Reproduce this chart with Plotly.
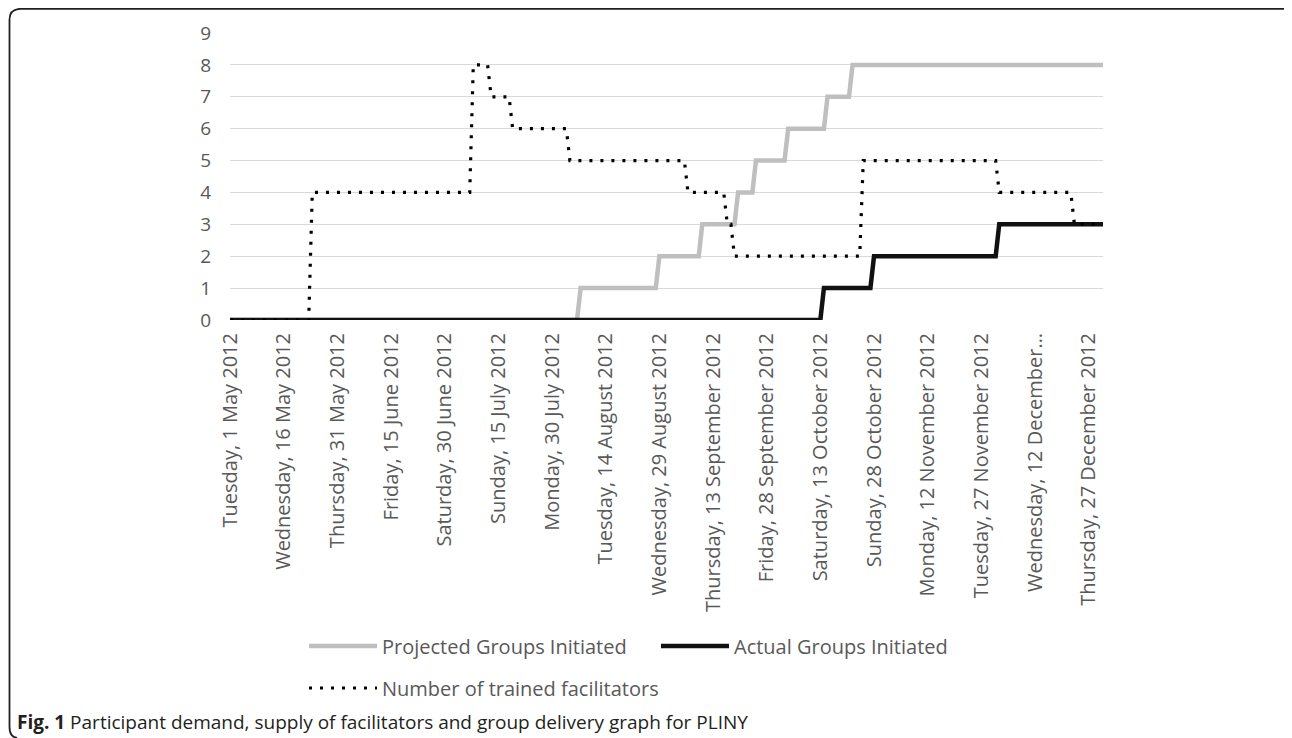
import plotly.graph_objects as go

# ---------------- data ----------------
proj_dates = ["2012-05-01", "2012-08-06", "2012-08-07", "2012-08-28", "2012-08-29",
              "2012-09-09", "2012-09-10", "2012-09-19", "2012-09-20", "2012-09-24",
              "2012-09-25", "2012-10-03", "2012-10-04", "2012-10-14", "2012-10-15",
              "2012-10-21", "2012-10-22", "2012-12-31"]
proj_values = [0, 0, 1, 1, 2, 2, 3, 3, 4, 4, 5, 5, 6, 6, 7, 7, 8, 8]

actual_dates = ["2012-05-01", "2012-10-13", "2012-10-14", "2012-10-27", "2012-10-28",
                "2012-12-01", "2012-12-02", "2012-12-31"]
actual_values = [0, 0, 1, 1, 2, 2, 3, 3]

facil_dates = ["2012-05-01", "2012-05-23", "2012-05-24", "2012-07-07", "2012-07-08",
               "2012-07-12", "2012-07-13", "2012-07-18", "2012-07-19", "2012-08-03",
               "2012-08-04", "2012-09-05", "2012-09-06", "2012-09-16", "2012-09-17",
               "2012-09-18", "2012-09-19", "2012-10-24", "2012-10-25", "2012-12-01",
               "2012-12-02", "2012-12-22", "2012-12-23", "2012-12-31"]
facil_values = [0, 0, 4, 4, 8, 8, 7, 7, 6, 6, 5, 5, 4, 4, 3, 3, 2, 2, 5, 5, 4, 4, 3, 3]

tick_dates = ["2012-05-01", "2012-05-16", "2012-05-31", "2012-06-15", "2012-06-30",
              "2012-07-15", "2012-07-30", "2012-08-14", "2012-08-29", "2012-09-13",
              "2012-09-28", "2012-10-13", "2012-10-28", "2012-11-12", "2012-11-27",
              "2012-12-12", "2012-12-27"]
tick_labels = ["Tuesday, 1 May 2012", "Wednesday, 16 May 2012", "Thursday, 31 May 2012",
               "Friday, 15 June 2012", "Saturday, 30 June 2012", "Sunday, 15 July 2012",
               "Monday, 30 July 2012", "Tuesday, 14 August 2012", "Wednesday, 29 August 2012",
               "Thursday, 13 September 2012", "Friday, 28 September 2012",
               "Saturday, 13 October 2012", "Sunday, 28 October 2012",
               "Monday, 12 November 2012", "Tuesday, 27 November 2012",
               "Wednesday, 12 December…", "Thursday, 27 December 2012"]

caption = "<b>Fig. 1</b> Participant demand, supply of facilitators and group delivery graph for PLINY"

# ---------------- layout geometry (page pixels; page body has an 8px margin) ----------------
OFF = 8
PAGE_W, PAGE_H = 1292, 738
W, H = PAGE_W - OFF, PAGE_H - OFF
L, R, T, B = 230, 1103, 33, 320  # plot area in page pixels
PW, PH = R - L, B - T


def px(x):
    return (x - L) / PW


def py(y):
    return (B - y) / PH


FONT = "Open Sans"

fig = go.Figure()
fig.add_trace(go.Scatter(x=proj_dates, y=proj_values, mode="lines",
                         name="Projected Groups Initiated",
                         line=dict(color="#BFBFBF", width=4.5), legend="legend"))
fig.add_trace(go.Scatter(x=actual_dates, y=actual_values, mode="lines",
                         name="Actual Groups Initiated",
                         line=dict(color="#111111", width=4.5), legend="legend"))
fig.add_trace(go.Scatter(x=facil_dates, y=facil_values, mode="lines",
                         name="Number of trained facilitators",
                         line=dict(color="#000000", width=3.2, dash="3px,8px"),
                         legend="legend2"))

border_path = (f"M {px(1292)},{py(15)} Q {px(1290)},{py(8.8)} {px(1282)},{py(8.8)} "
               f"L {px(21)},{py(8.8)} Q {px(9.5)},{py(8.8)} {px(9.5)},{py(20)} "
               f"L {px(9.5)},{py(727)} Q {px(9.5)},{py(737)} {px(17)},{py(738)}")

fig.update_layout(
    width=W, height=H,
    margin=dict(l=L - OFF, r=PAGE_W - R, t=T - OFF, b=PAGE_H - B, pad=0),
    paper_bgcolor="white", plot_bgcolor="white",
    font=dict(family=FONT, color="#595959"),
    xaxis=dict(type="date", range=["2012-05-01", "2012-12-31"],
               tickmode="array", tickvals=tick_dates, ticktext=tick_labels,
               tickangle=-90, showgrid=False, zeroline=False,
               showline=False, ticks="", ticklabelstandoff=8,
               tickfont=dict(family=FONT, size=20, color="#595959")),
    yaxis=dict(range=[0, 9], dtick=1, tick0=0, showgrid=True, gridcolor="#D9D9D9",
               gridwidth=1.3, zeroline=False, showline=False, ticks="",
               ticklabelstandoff=18,
               tickfont=dict(family=FONT, size=19, color="#595959")),
    legend=dict(orientation="h", x=px(304), xanchor="left", y=py(646), yanchor="middle",
                entrywidth=269, entrywidthmode="pixels", itemwidth=68,
                font=dict(family=FONT, size=20, color="#595959"),
                bgcolor="rgba(0,0,0,0)", traceorder="normal"),
    legend2=dict(orientation="h", x=px(304), xanchor="left", y=py(688), yanchor="middle",
                 itemwidth=68,
                 font=dict(family=FONT, size=20, color="#595959"),
                 bgcolor="rgba(0,0,0,0)"),
    shapes=[dict(type="path", xref="paper", yref="paper", path=border_path,
                 line=dict(color="#231F20", width=1.8), layer="above")],
    annotations=[dict(text=caption, xref="paper", yref="paper", x=px(15), y=py(722),
                      xanchor="left", yanchor="middle", showarrow=False,
                      font=dict(family=FONT, size=19, color="#231F20"))],
)

fig.write_html("out.html")
